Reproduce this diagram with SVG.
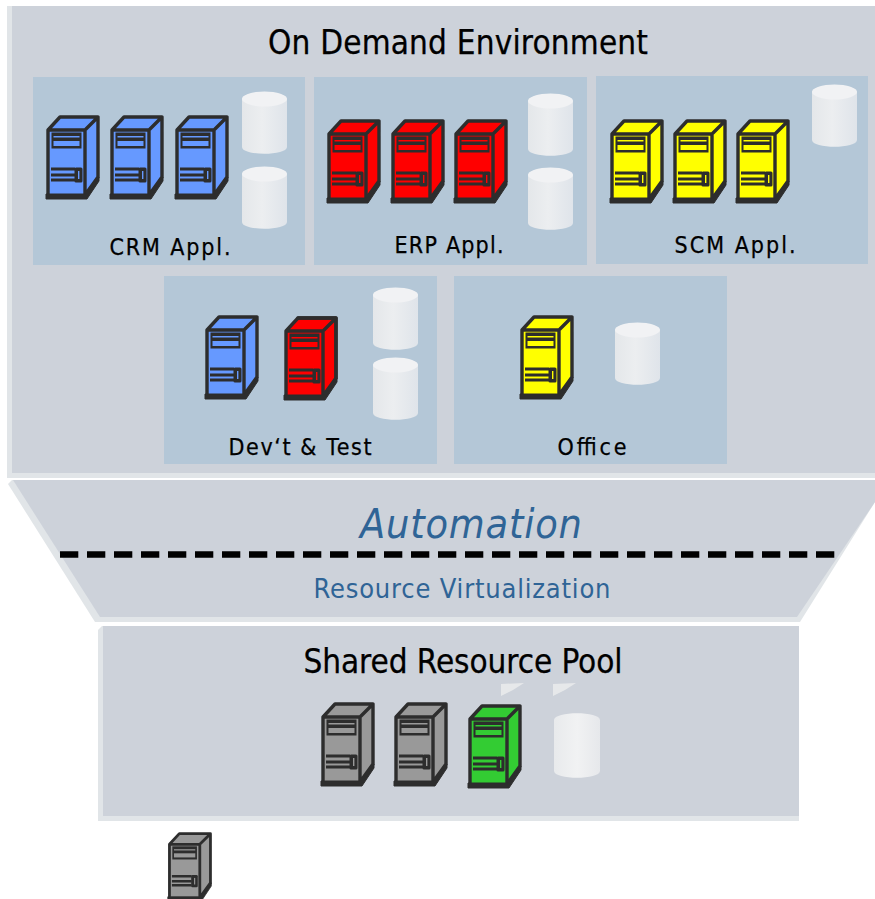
<svg xmlns="http://www.w3.org/2000/svg" xmlns:xlink="http://www.w3.org/1999/xlink" width="875" height="899" viewBox="0 0 875 899">
<style>
text{font-family:"DejaVu Sans Condensed","DejaVu Sans","Liberation Sans",sans-serif;font-stretch:condensed;text-anchor:middle;fill:#000}
.lbl{font-size:23px;stroke:#000;stroke-width:.25px}
.ttl{font-size:33px;stroke:#000;stroke-width:.25px}
.blue{fill:#2f6496}
.panel{fill:#b4c7d7}
.bevel{fill:#e1e5e8}
.base{fill:#cdd2da}
.k{fill:none;stroke:#2d2d2d;stroke-width:3.4;stroke-linejoin:round;stroke-linecap:round}
.kf{fill:#2d2d2d;stroke:#2d2d2d;stroke-width:1;stroke-linejoin:round}
.frag{fill:#e6e8ea}
.b{fill:#6699ff}.r{fill:#ff0000}.y{fill:#ffff00}.g{fill:#999999}.gr{fill:#33cc33}
</style>
<defs>
<linearGradient id="cyl" x1="0" x2="1" y1="0" y2="0">
<stop offset="0" stop-color="#e4e7ea"/><stop offset=".45" stop-color="#eceef0"/><stop offset="1" stop-color="#dfe4ea"/>
</linearGradient>
<linearGradient id="cylw" x1="0" x2="1" y1="0" y2="0">
<stop offset="0" stop-color="#e8eaec"/><stop offset=".5" stop-color="#f1f2f3"/><stop offset="1" stop-color="#e6e8eb"/>
</linearGradient>
<g id="cylinder">
<path d="M0 7C0 -2 45 -2 45 7V55C45 64 0 64 0 55Z" fill="url(#cyl)"/>
<ellipse cx="22.5" cy="7" rx="22.5" ry="7.5" fill="#f1f2f4"/>
</g>
<g id="server">
<path d="M3 15 15 2H53V62L41 80H3Z" fill="currentColor"/>
<path class="k" d="M3 15 15 2H53L40 15H3ZM40 15 53 2V62L40 80M3 15V79M40 15V79"/>
<path class="kf" d="M1 79H41L54 62V66L42 84H1Z"/>
<rect x="6.500" y="17.500" width="30" height="16" fill="#2d2d2d"/>
<rect x="8.500" y="21" width="26" height="1.500" fill="currentColor"/>
<rect x="8.500" y="26" width="26" height="5" fill="currentColor"/>
<path d="M6 54H30M6 60H30M6 65H30" stroke="#2d2d2d" stroke-width="3" fill="none"/>
<rect x="29.500" y="52.500" width="8" height="15" rx="1.500" fill="#2d2d2d"/>
<rect x="33" y="56" width="1.400" height="8" fill="currentColor"/>
</g>
</defs>

<g id="on-demand-environment">
<rect class="bevel" x="7" y="6" width="868" height="472"/>
<rect class="base" x="12" y="6" width="863" height="467"/>
<text class="ttl" x="458" y="54" textLength="380" lengthAdjust="spacing">On Demand Environment</text>
</g>

<g id="crm-appl">
<rect class="panel" x="33" y="77" width="272" height="188"/>
<g class="b" color="#6699ff"><use href="#server" x="45" y="115"/><use href="#server" x="109" y="115"/><use href="#server" x="174" y="115"/></g>
<use href="#cylinder" x="242" y="92"/><use href="#cylinder" x="242" y="167"/>
<text class="lbl" x="170" y="255" textLength="121" lengthAdjust="spacing">CRM Appl.</text>
</g>

<g id="erp-appl">
<rect class="panel" x="314" y="77" width="273" height="188"/>
<g color="#ff0000"><use href="#server" x="326" y="119"/><use href="#server" x="390" y="119"/><use href="#server" x="453" y="119"/></g>
<use href="#cylinder" x="528" y="94"/><use href="#cylinder" x="528" y="168"/>
<text class="lbl" x="449" y="253" textLength="109" lengthAdjust="spacing">ERP Appl.</text>
</g>

<g id="scm-appl">
<rect class="panel" x="596" y="76" width="272" height="188"/>
<g color="#ffff00"><use href="#server" x="609" y="119"/><use href="#server" x="672" y="119"/><use href="#server" x="735" y="119"/></g>
<use href="#cylinder" x="812" y="85"/>
<text class="lbl" x="735" y="253" textLength="121" lengthAdjust="spacing">SCM Appl.</text>
</g>

<g id="devt-test">
<rect class="panel" x="164" y="276" width="273" height="188"/>
<use href="#server" x="204" y="315" color="#6699ff"/>
<use href="#server" x="283" y="316" color="#ff0000"/>
<path class="k" d="M298 318H336V378" />
<use href="#cylinder" x="373" y="288"/><use href="#cylinder" x="373" y="358"/>
<text class="lbl" x="300" y="455" textLength="143" lengthAdjust="spacing">Dev‘t &amp; Test</text>
</g>

<g id="office">
<rect class="panel" x="454" y="276" width="273" height="188"/>
<use href="#server" x="519" y="315" color="#ffff00"/>
<use href="#cylinder" x="615" y="323"/>
<text class="lbl" x="592" y="455" textLength="69" lengthAdjust="spacing">Office</text>
</g>

<g id="automation">
<path class="bevel" d="M8 484 12 480H875V502L800 622H95Z"/>
<path class="base" d="M13 480H875V502L797 617H100Z"/>
<text x="471" y="538" font-size="41" font-style="italic" class="blue" textLength="222" lengthAdjust="spacing">Automation</text>
<line x1="60" y1="554.500" x2="835" y2="554.500" stroke="#000" stroke-width="6.500" stroke-dasharray="18.300 8.700"/>
<text x="462" y="598" font-size="27" class="blue" textLength="297" lengthAdjust="spacing">Resource Virtualization</text>
</g>

<g id="shared-resource-pool">
<path class="bevel" d="M98 630 102 626H799V821H98Z"/>
<path class="base" d="M103 626H799V816H103Z"/>
<text class="ttl" x="463" y="673" textLength="319" lengthAdjust="spacing">Shared Resource Pool</text>
<use href="#server" x="320" y="702" color="#999999"/>
<use href="#server" x="393" y="702" color="#999999"/>
<use href="#server" x="467" y="704" color="#33cc33"/>
<path class="frag" d="M501 684 524 683 513 690 501 696Z"/>
<path class="frag" d="M553 684 576 683 565 690 553 696Z"/>
<path d="M0 7C0 -2 46 -2 46 7V58C46 67 0 67 0 58Z" transform="translate(554 713)" fill="url(#cylw)"/>
</g>

<g id="spare-server">
<use href="#server" transform="translate(167 832) scale(.82)" color="#999999"/>
</g>

<g id="connectors"/>
</svg>
